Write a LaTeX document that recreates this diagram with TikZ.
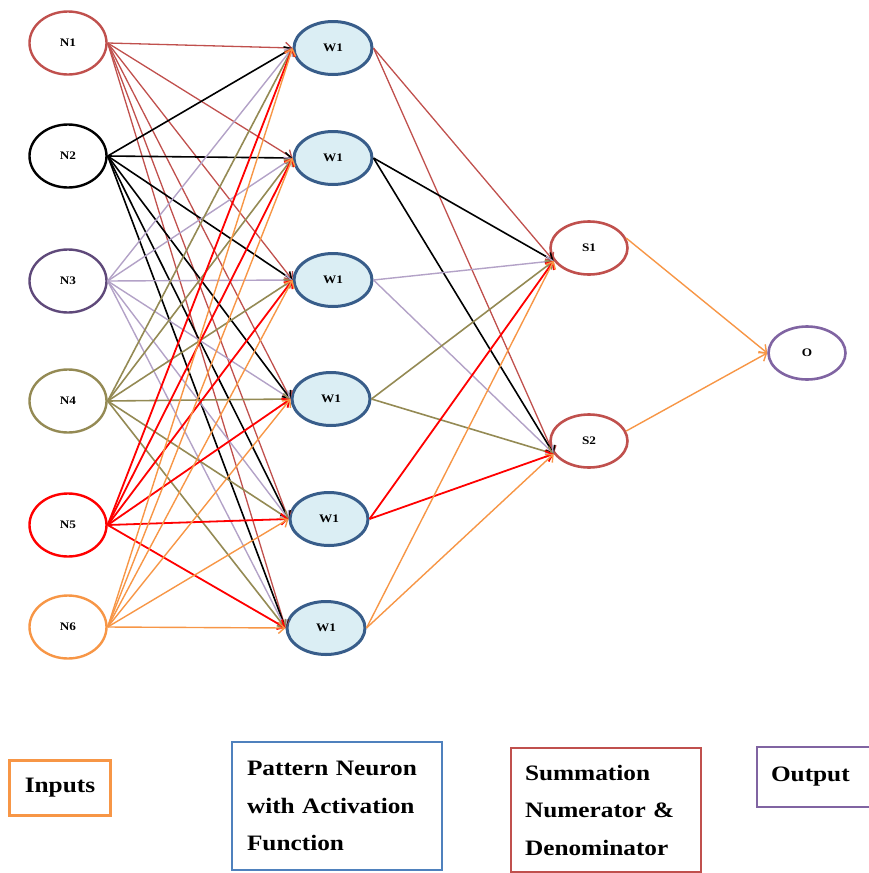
\documentclass[tikz,border=0pt]{standalone}
\usepackage{fontspec}
\setmainfont{Liberation Serif}
\newfontfamily\keyfont[FakeStretch=1.15]{Liberation Serif}
\usetikzlibrary{arrows.meta,shapes.geometric}

\definecolor{inred}{HTML}{C0504D}
\definecolor{inpurple}{HTML}{5F497A}
\definecolor{inlav}{HTML}{B3A2C7}
\definecolor{inolive}{HTML}{948A54}
\definecolor{inorange}{HTML}{F79646}
\definecolor{wblue}{HTML}{385D8A}
\definecolor{wfill}{HTML}{DBEEF4}
\definecolor{kblue}{HTML}{4F81BD}
\definecolor{opurple}{HTML}{8064A2}

\begin{document}
\begin{tikzpicture}[x=1pt,y=-1pt,
  every node/.style={font=\keyfont\bfseries\fontsize{11.5}{12}\selectfont},
  inode/.style={ellipse,draw,fill=white,line width=2.4pt,minimum width=77pt,minimum height=63pt,inner sep=0pt},
  wnode/.style={ellipse,draw=wblue,fill=wfill,line width=3pt,minimum width=78pt,minimum height=53pt,inner sep=0pt},
  snode/.style={ellipse,draw=inred,fill=white,line width=2.6pt,minimum width=77pt,minimum height=53pt,inner sep=0pt},
  link/.style={-{Straight Barb[length=6pt,width=11pt]},line width=1.4pt},
  keybox/.style={draw,line width=2.5pt,inner sep=0pt,align=left,
    font=\keyfont\bfseries\fontsize{22}{37.5}\selectfont}]
  \useasboundingbox (0,0) rectangle (868,873);

  % Input layer
  \node[inode,draw=inred]    (n1) at (68,43)  {N1};
  \node[inode,draw=black]    (n2) at (68,156) {N2};
  \node[inode,draw=inpurple] (n3) at (68,281) {N3};
  \node[inode,draw=inolive]  (n4) at (68,401) {N4};
  \node[inode,draw=red]      (n5) at (68,525) {N5};
  \node[inode,draw=inorange] (n6) at (68,627) {N6};

  % Pattern layer
  \node[wnode] (w1) at (333,48)  {W1};
  \node[wnode] (w2) at (333,158) {W1};
  \node[wnode] (w3) at (333,280) {W1};
  \node[wnode] (w4) at (331,399) {W1};
  \node[wnode] (w5) at (329,519) {W1};
  \node[wnode] (w6) at (326,628) {W1};

  % Summation and output
  \node[snode] (s1) at (589,248) {S1};
  \node[snode] (s2) at (589,441) {S2};
  \node[snode,draw=opurple] (o) at (807,353) {O};

  % Inputs to pattern neurons
  \foreach \i/\c/\w in {1/inred/1.3pt,2/black/1.6pt,3/inlav/1.4pt,4/inolive/1.6pt,5/red/1.8pt,6/inorange/1.4pt}
    \foreach \j in {1,...,6}
      \draw[link,\c,line width=\w] (n\i.east) -- (w\j.west);

  % Pattern neurons to summation
  \foreach \j/\c/\w in {1/inred/1.3pt,2/black/1.6pt,3/inlav/1.4pt,4/inolive/1.6pt,5/red/1.8pt,6/inorange/1.4pt}{
    \draw[link,\c,line width=\w] (w\j.east) -- (s1.200);
    \draw[link,\c,line width=\w] (w\j.east) -- (s2.200);
  }

  % Summation to output
  \draw[link,inorange] (s1.15) -- (o.west);
  \draw[link,inorange] (s2.15) -- (o.west);

  % Legend
  \node[keybox,draw=inorange,minimum width=101pt,minimum height=55pt,align=center]
    (kin) at (60,788) {Inputs};
  \node[keybox,draw=kblue,minimum width=210pt,minimum height=128pt,text width=180pt]
    (kpat) at (337,806) {Pattern Neuron\\with Activation\\Function};
  \node[keybox,draw=inred,minimum width=190pt,minimum height=124pt,text width=162pt]
    (ksum) at (606,810) {Summation\\Numerator \&\\Denominator};
  \node[keybox,draw=opurple,minimum width=143pt,minimum height=60pt,text width=115pt]
    (kout) at (828.5,777) {Output};
\end{tikzpicture}
\end{document}
